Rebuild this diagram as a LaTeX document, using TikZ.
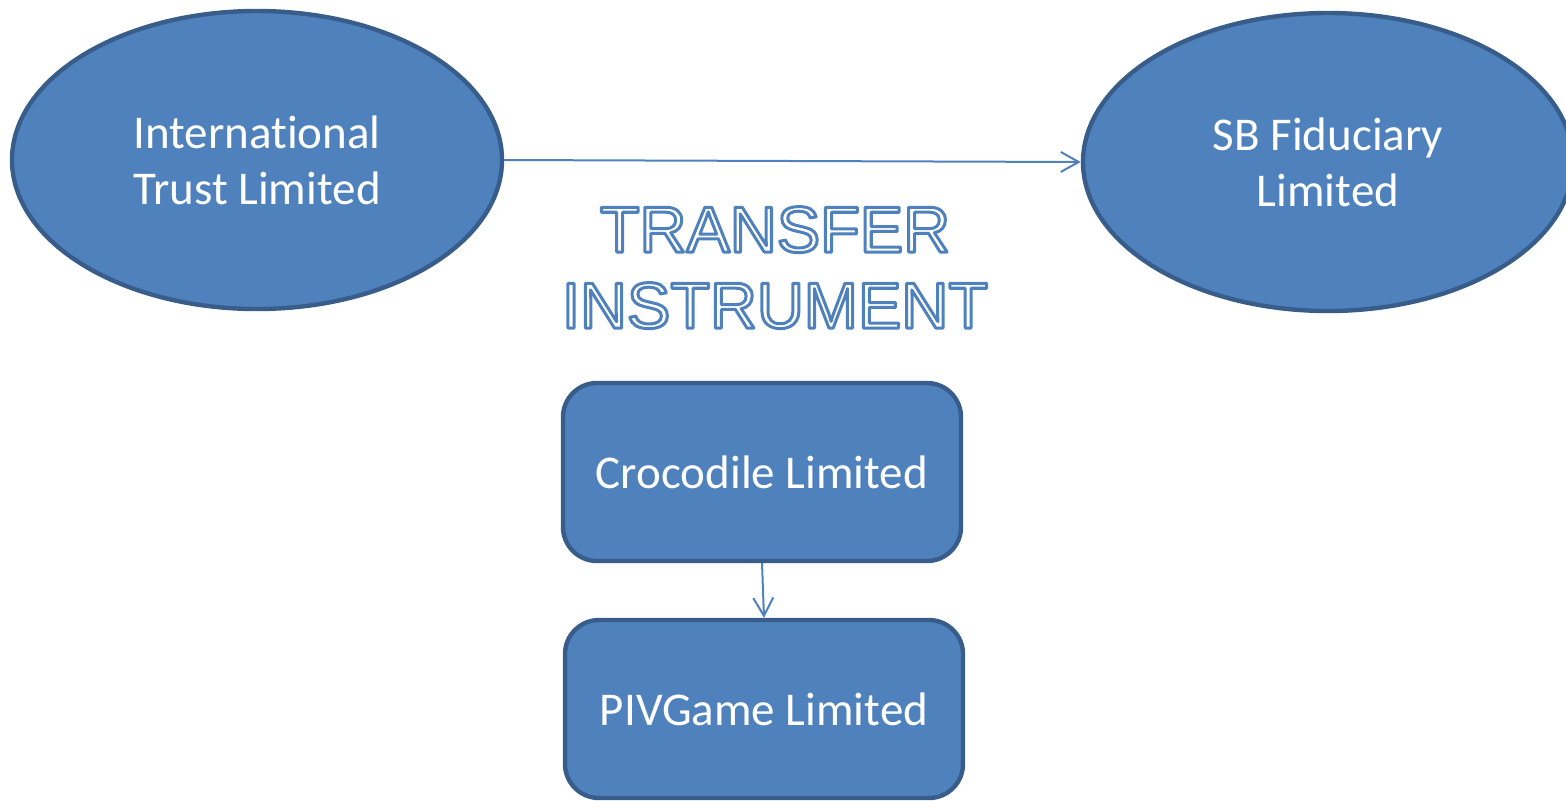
\documentclass[tikz,border=0pt]{standalone}
\usepackage{fontspec}
\setmainfont{Carlito}[Ligatures={NoCommon}]
\newfontfamily\headfont{Liberation Sans}
\usetikzlibrary{shapes.geometric,arrows.meta}

\definecolor{boxfill}{HTML}{4F81BD}
\definecolor{boxedge}{HTML}{385D8A}
\definecolor{linkblue}{HTML}{4F81BD}

\tikzset{
  entity/.style={ellipse, fill=boxfill, draw=boxedge, line width=2.2pt,
    text=white, align=center, font=\fontsize{23.5}{28}\selectfont,
    minimum width=245pt, minimum height=149pt, inner sep=0pt},
  company/.style={rectangle, rounded corners=17pt, fill=boxfill, draw=boxedge,
    line width=2.2pt, text=white, font=\fontsize{23.5}{28}\selectfont,
    minimum width=199pt, minimum height=89pt, inner sep=0pt},
  link/.style={draw=linkblue, line width=1pt,
    -{Straight Barb[length=9pt,width=10pt,line width=1pt]}},
  headline/.style={font=\headfont\fontsize{32.5}{37.5}\selectfont,
    anchor=base, text=white, inner sep=0pt}
}

% white letters stroked in blue (fill-and-stroke text rendering mode)
\newcommand{\outlined}[1]{%
  \special{pdf:literal direct 0.310 0.506 0.741 RG 1.5 w 1 j 2 Tr}#1%
  \special{pdf:literal direct 0 Tr}}

\begin{document}
\begin{tikzpicture}[x=0.5pt, y=-0.5pt]
  \useasboundingbox (0,0) rectangle (1566,800);

  \node[entity] (itl) at (257,160) {International\\Trust Limited};
  \node[entity] (sbf) at (1328,162) {SB Fiduciary\\Limited};

  \node[company] (croc) at (762,472) {Crocodile Limited};
  \node[company] (piv)  at (764,709) {PIVGame Limited};

  \draw[link] (itl.east) -- (sbf.west);
  \draw[link] (croc.south) -- (piv.north);

  \node[headline] (head1) at (775,252) {\outlined{TRANSFER}};
  \node[headline] (head2) at (775,328) {\outlined{INSTRUMENT}};
\end{tikzpicture}
\end{document}
